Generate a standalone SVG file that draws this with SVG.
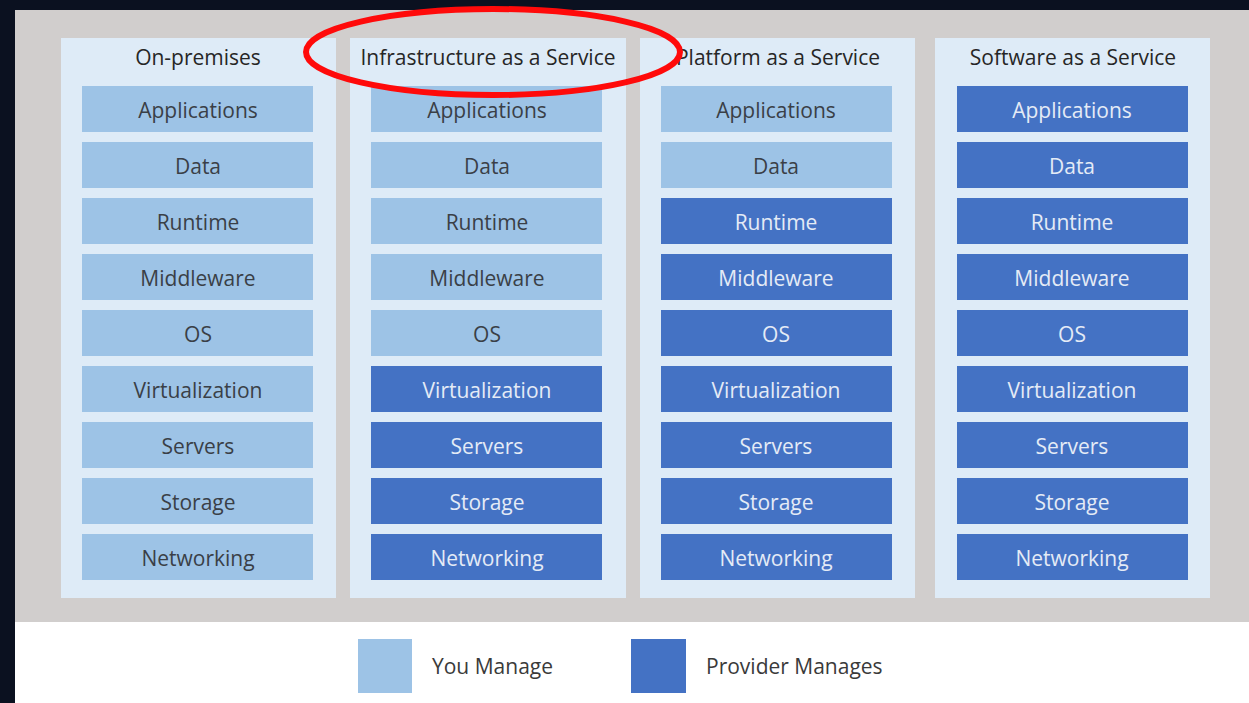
<svg xmlns="http://www.w3.org/2000/svg" width="1249" height="703" viewBox="0 0 1249 703">
  <style>
    .bg { fill: #0b1120; }
    .stage { fill: #d1cecd; }
    .foot { fill: #ffffff; }
    .panel { fill: #deebf7; }
    .you { fill: #9dc3e6; }
    .prov { fill: #4472c4; }
    text { font-family: "Open Sans", "Noto Sans", "Liberation Sans", sans-serif; font-size: 21px; text-anchor: middle; dominant-baseline: central; }
    .head { fill: #262626; }
    .tdark { fill: #3a3f47; }
    .tlight { fill: #e4ebf6; }
    .legend { fill: #3a3a3a; text-anchor: start; }
    .mark { fill: none; stroke: #ff0a0a; stroke-width: 6; }
  </style>

  <!-- backdrop -->
  <rect class="bg" x="0" y="0" width="1249" height="703"/>
  <rect class="stage" x="15" y="10" width="1234" height="612"/>
  <rect class="foot" x="15" y="622" width="1234" height="81"/>

  <!-- On-premises -->
  <g id="col-onprem">
    <rect class="panel" x="61" y="38" width="275" height="560"/>
    <text class="head" x="198" y="57">On-premises</text>
    <rect class="you" x="82" y="86" width="231" height="46"/><text class="tdark" x="198" y="110">Applications</text>
    <rect class="you" x="82" y="142" width="231" height="46"/><text class="tdark" x="198" y="166">Data</text>
    <rect class="you" x="82" y="198" width="231" height="46"/><text class="tdark" x="198" y="222">Runtime</text>
    <rect class="you" x="82" y="254" width="231" height="46"/><text class="tdark" x="198" y="278">Middleware</text>
    <rect class="you" x="82" y="310" width="231" height="46"/><text class="tdark" x="198" y="334">OS</text>
    <rect class="you" x="82" y="366" width="231" height="46"/><text class="tdark" x="198" y="390">Virtualization</text>
    <rect class="you" x="82" y="422" width="231" height="46"/><text class="tdark" x="198" y="446">Servers</text>
    <rect class="you" x="82" y="478" width="231" height="46"/><text class="tdark" x="198" y="502">Storage</text>
    <rect class="you" x="82" y="534" width="231" height="46"/><text class="tdark" x="198" y="558">Networking</text>
  </g>

  <!-- Infrastructure as a Service -->
  <g id="col-iaas">
    <rect class="panel" x="350" y="38" width="276" height="560"/>
    <text class="head" x="488" y="57">Infrastructure as a Service</text>
    <rect class="you" x="371" y="86" width="231" height="46"/><text class="tdark" x="487" y="110">Applications</text>
    <rect class="you" x="371" y="142" width="231" height="46"/><text class="tdark" x="487" y="166">Data</text>
    <rect class="you" x="371" y="198" width="231" height="46"/><text class="tdark" x="487" y="222">Runtime</text>
    <rect class="you" x="371" y="254" width="231" height="46"/><text class="tdark" x="487" y="278">Middleware</text>
    <rect class="you" x="371" y="310" width="231" height="46"/><text class="tdark" x="487" y="334">OS</text>
    <rect class="prov" x="371" y="366" width="231" height="46"/><text class="tlight" x="487" y="390">Virtualization</text>
    <rect class="prov" x="371" y="422" width="231" height="46"/><text class="tlight" x="487" y="446">Servers</text>
    <rect class="prov" x="371" y="478" width="231" height="46"/><text class="tlight" x="487" y="502">Storage</text>
    <rect class="prov" x="371" y="534" width="231" height="46"/><text class="tlight" x="487" y="558">Networking</text>
  </g>

  <!-- Platform as a Service -->
  <g id="col-paas">
    <rect class="panel" x="640" y="38" width="275" height="560"/>
    <text class="head" x="778" y="57">Platform as a Service</text>
    <rect class="you" x="661" y="86" width="231" height="46"/><text class="tdark" x="776" y="110">Applications</text>
    <rect class="you" x="661" y="142" width="231" height="46"/><text class="tdark" x="776" y="166">Data</text>
    <rect class="prov" x="661" y="198" width="231" height="46"/><text class="tlight" x="776" y="222">Runtime</text>
    <rect class="prov" x="661" y="254" width="231" height="46"/><text class="tlight" x="776" y="278">Middleware</text>
    <rect class="prov" x="661" y="310" width="231" height="46"/><text class="tlight" x="776" y="334">OS</text>
    <rect class="prov" x="661" y="366" width="231" height="46"/><text class="tlight" x="776" y="390">Virtualization</text>
    <rect class="prov" x="661" y="422" width="231" height="46"/><text class="tlight" x="776" y="446">Servers</text>
    <rect class="prov" x="661" y="478" width="231" height="46"/><text class="tlight" x="776" y="502">Storage</text>
    <rect class="prov" x="661" y="534" width="231" height="46"/><text class="tlight" x="776" y="558">Networking</text>
  </g>

  <!-- Software as a Service -->
  <g id="col-saas">
    <rect class="panel" x="935" y="38" width="275" height="560"/>
    <text class="head" x="1073" y="57">Software as a Service</text>
    <rect class="prov" x="957" y="86" width="231" height="46"/><text class="tlight" x="1072" y="110">Applications</text>
    <rect class="prov" x="957" y="142" width="231" height="46"/><text class="tlight" x="1072" y="166">Data</text>
    <rect class="prov" x="957" y="198" width="231" height="46"/><text class="tlight" x="1072" y="222">Runtime</text>
    <rect class="prov" x="957" y="254" width="231" height="46"/><text class="tlight" x="1072" y="278">Middleware</text>
    <rect class="prov" x="957" y="310" width="231" height="46"/><text class="tlight" x="1072" y="334">OS</text>
    <rect class="prov" x="957" y="366" width="231" height="46"/><text class="tlight" x="1072" y="390">Virtualization</text>
    <rect class="prov" x="957" y="422" width="231" height="46"/><text class="tlight" x="1072" y="446">Servers</text>
    <rect class="prov" x="957" y="478" width="231" height="46"/><text class="tlight" x="1072" y="502">Storage</text>
    <rect class="prov" x="957" y="534" width="231" height="46"/><text class="tlight" x="1072" y="558">Networking</text>
  </g>

  <!-- legend -->
  <g id="legend-you">
    <rect class="you" x="358" y="639" width="54" height="54"/>
    <text class="legend" x="432" y="666">You Manage</text>
  </g>
  <g id="legend-provider">
    <rect class="prov" x="631" y="639" width="55" height="54"/>
    <text class="legend" x="706" y="666">Provider Manages</text>
  </g>

  <!-- highlight ring around the IaaS heading -->
  <g id="connectors">
    <ellipse class="mark" cx="493" cy="52" rx="187" ry="43"/>
  </g>
</svg>
